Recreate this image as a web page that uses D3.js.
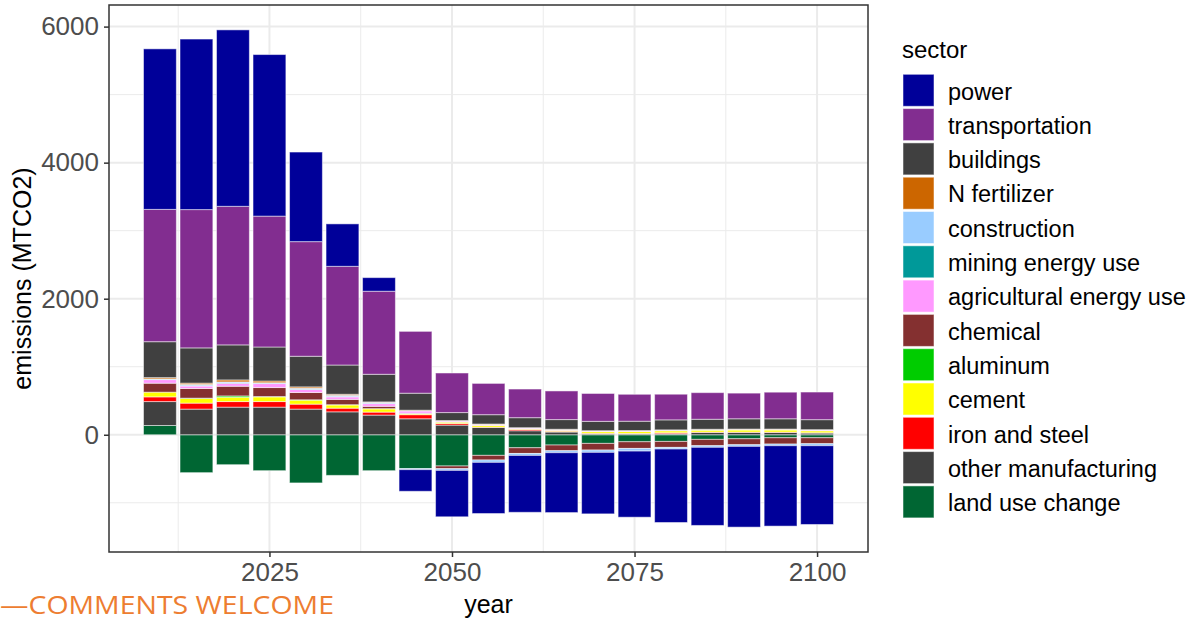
<!DOCTYPE html>
<html>
<head>
<meta charset="utf-8">
<script src="https://cdn.jsdelivr.net/npm/d3@7"></script>
<style>
  body { margin: 0; background: #fff; }
  text { font-family: "Liberation Sans", Arial, sans-serif; }
</style>
</head>
<body>
<div id="chart"></div>
<script>
// emissions by sector, stacked bars (positive up, negative down)

let years = [2010, 2015, 2020, 2025, 2030, 2035, 2040, 2045, 2050, 2055,
             2060, 2065, 2070, 2075, 2080, 2085, 2090, 2095, 2100];

let sectors = ["power", "transportation", "buildings", "N fertilizer", "construction",
               "mining energy use", "agricultural energy use", "chemical", "aluminum",
               "cement", "iron and steel", "other manufacturing", "land use change"];

let sectorColors = ["#000099", "#822D90", "#404040", "#CC6600", "#99CCFF",
                    "#009999", "#FF99FF", "#843030", "#00CC00",
                    "#FFFF00", "#FF0000", "#404040", "#006633"];

let power          = [2360, 2507, 2594, 2375, 1317, 624, 200, -318, -682, -752, -836, -880, -904, -972, -1080, -1148, -1187, -1182, -1158];
let transportation = [1945, 2033, 2037, 1924, 1685, 1451, 1221, 909, 582, 460, 421, 421, 410, 396, 377, 391, 377, 391, 406];
let buildings      = [528, 518, 515, 500, 450, 430, 406, 250, 117, 137, 147, 142, 137, 137, 147, 147, 151, 151, 147];
let nFertilizer    = [19, 19, 29, 25, 19, 15, 5, 7, 5, 3, 3, 3, 3, 3, 3, 3, 3, 3, 3];
let construction   = [5, 18, 15, 7, 15, 18, 15, -15, -25, -35, -29, -29, -34, -39, -24, -24, -24, -24, -29];
let mining         = [5, 5, 5, 5, 5, 5, 5, 3, 2, 2, 2, 2, 2, 2, 2, 2, 2, 2, 2];
let agricultural   = [53, 37, 44, 59, 44, 37, 40, 34, 15, 15, 10, 10, 7, 7, 7, 7, 7, 7, 10];
let chemical       = [132, 142, 142, 132, 107, 78, 34, 5, -40, -68, -84, -84, -98, -98, -88, -93, -88, -93, -88];
let aluminum       = [0, 5, 19, 5, 5, 3, 3, 2, 1, 1, 1, 1, 1, 1, 1, 1, 1, 1, 1];
let cement         = [69, 68, 64, 69, 59, 48, 48, 15, 21, 25, 10, 15, 25, 29, 29, 29, 32, 32, 29];
let ironSteel      = [69, 88, 82, 82, 73, 54, 44, 60, 23, 5, 19, 10, 7, 5, 15, 5, 5, 5, 5];
let otherManuf     = [352, 377, 406, 406, 377, 337, 289, 235, 142, 107, 59, 40, 15, 15, 15, 34, 34, 34, 25];
let landUse        = [136, -557, -440, -528, -708, -597, -528, -498, -459, -303, -191, -151, -127, -103, -98, -68, -59, -44, -44];

let yTicks = [0, 2000, 4000, 6000];
let xTicks = [2025, 2050, 2075, 2100];

let seriesValues = [power, transportation, buildings, nFertilizer, construction,
                    mining, agricultural, chemical, aluminum, cement, ironSteel,
                    otherManuf, landUse];

// rows for d3.stack
let rows = years.map(function(yr, i) {
  let r = { year: yr };
  sectors.forEach(function(s, j) { r[s] = seriesValues[j][i]; });
  return r;
});

let width = 1189, height = 620;
let panel = { left: 109, right: 868, top: 5, bottom: 552 };

let svg = d3.select("#chart").append("svg")
  .attr("width", width).attr("height", height);

// ggplot stacks the last factor level at the bottom
let stackKeys = sectors.slice().reverse();
let stacked = d3.stack().keys(stackKeys).offset(d3.stackOffsetDiverging)(rows);

let yMin = d3.min(stacked, function(s) { return d3.min(s, function(d) { return d[0]; }); });
let yMax = d3.max(stacked, function(s) { return d3.max(s, function(d) { return d[1]; }); });
let yPad = (yMax - yMin) * 0.05;

let barW = 4.5;
let xLo = years[0] - barW / 2, xHi = years[years.length - 1] + barW / 2;
let xPad = (xHi - xLo) * 0.05;

let xScale = d3.scaleLinear().domain([xLo - xPad, xHi + xPad]).range([panel.left, panel.right]);
let yScale = d3.scaleLinear().domain([yMin - yPad, yMax + yPad]).range([panel.bottom, panel.top]);

let colorScale = d3.scaleOrdinal().domain(sectors).range(sectorColors);

// grid
let grid = svg.append("g");
let yMinor = d3.range(-1000, 7000, 2000);
let xMinor = [2012.5, 2037.5, 2062.5, 2087.5];
grid.selectAll(".ymin").data(yMinor).enter().append("line")
  .attr("x1", panel.left).attr("x2", panel.right)
  .attr("y1", function(d) { return yScale(d); }).attr("y2", function(d) { return yScale(d); })
  .attr("stroke", "#ebebeb").attr("stroke-width", 1);
grid.selectAll(".xmin").data(xMinor).enter().append("line")
  .attr("y1", panel.top).attr("y2", panel.bottom)
  .attr("x1", function(d) { return xScale(d); }).attr("x2", function(d) { return xScale(d); })
  .attr("stroke", "#ebebeb").attr("stroke-width", 1);
grid.selectAll(".ymaj").data(yTicks).enter().append("line")
  .attr("x1", panel.left).attr("x2", panel.right)
  .attr("y1", function(d) { return yScale(d); }).attr("y2", function(d) { return yScale(d); })
  .attr("stroke", "#ebebeb").attr("stroke-width", 2);
grid.selectAll(".xmaj").data(xTicks).enter().append("line")
  .attr("y1", panel.top).attr("y2", panel.bottom)
  .attr("x1", function(d) { return xScale(d); }).attr("x2", function(d) { return xScale(d); })
  .attr("stroke", "#ebebeb").attr("stroke-width", 2);

// bars
let layers = svg.append("g").selectAll("g")
  .data(stacked).enter().append("g")
  .attr("fill", function(s) { return colorScale(s.key); });

layers.selectAll("rect")
  .data(function(s) { return s.filter(function(d) { return d[1] - d[0] !== 0; }); })
  .enter().append("rect")
  .attr("x", function(d) { return xScale(d.data.year - barW / 2); })
  .attr("width", xScale(barW) - xScale(0))
  .attr("y", function(d) { return yScale(Math.max(d[0], d[1])); })
  .attr("height", function(d) { return Math.abs(yScale(d[0]) - yScale(d[1])); })
  .attr("stroke", "white")
  .attr("stroke-opacity", 0.5)
  .attr("stroke-width", 1);

// panel border
svg.append("rect")
  .attr("x", panel.left).attr("y", panel.top)
  .attr("width", panel.right - panel.left).attr("height", panel.bottom - panel.top)
  .attr("fill", "none").attr("stroke", "#333333").attr("stroke-width", 1.5);

// axes
let xAxis = svg.append("g")
  .attr("transform", "translate(0," + panel.bottom + ")")
  .call(d3.axisBottom(xScale).tickValues(xTicks).tickFormat(d3.format("d")).tickSize(5).tickPadding(5));
let yAxis = svg.append("g")
  .attr("transform", "translate(" + panel.left + ",0)")
  .call(d3.axisLeft(yScale).tickValues(yTicks).tickFormat(d3.format("d")).tickSize(5).tickPadding(5));

[xAxis, yAxis].forEach(function(a) {
  a.select(".domain").remove();
  a.selectAll(".tick line").attr("stroke", "#333333").attr("stroke-width", 1.5);
  a.selectAll(".tick text")
    .attr("fill", "#4d4d4d")
    .style("font-family", "'Liberation Sans', Arial, sans-serif")
    .style("font-size", "26px");
});
xAxis.selectAll(".tick text").attr("dy", "0.74em");

// axis titles
svg.append("text")
  .attr("transform", "translate(31," + ((panel.top + panel.bottom) / 2) + ") rotate(-90)")
  .attr("text-anchor", "middle")
  .style("font-size", "25px")
  .text("emissions (MTCO2)");

svg.append("text")
  .attr("x", (panel.left + panel.right) / 2).attr("y", 613)
  .attr("text-anchor", "middle")
  .style("font-size", "25px")
  .text("year");

// note in the corner
svg.append("text")
  .attr("x", 0).attr("y", 614)
  .attr("fill", "#ED7D31")
  .attr("textLength", 334)
  .attr("lengthAdjust", "spacingAndGlyphs")
  .style("font-family", "'Open Sans', sans-serif")
  .style("font-size", "25px")
  .text("\u2014COMMENTS WELCOME");

// legend
let legend = svg.append("g");
legend.append("text")
  .attr("x", 902).attr("y", 58)
  .style("font-size", "24px")
  .text("sector");

let keyTop = 74.3, keyStep = 34.3;
let items = legend.selectAll(".item").data(sectors).enter().append("g")
  .attr("transform", function(d, i) { return "translate(0," + (keyTop + i * keyStep) + ")"; });
items.append("rect")
  .attr("x", 903).attr("y", 0)
  .attr("width", 31).attr("height", 32)
  .attr("fill", function(d) { return colorScale(d); })
  .attr("stroke", "white").attr("stroke-opacity", 0.5).attr("stroke-width", 1);
items.append("text")
  .attr("x", 948).attr("y", 17).attr("dy", "0.35em")
  .style("font-size", "23.5px")
  .text(function(d) { return d; });
</script>
</body>
</html>
